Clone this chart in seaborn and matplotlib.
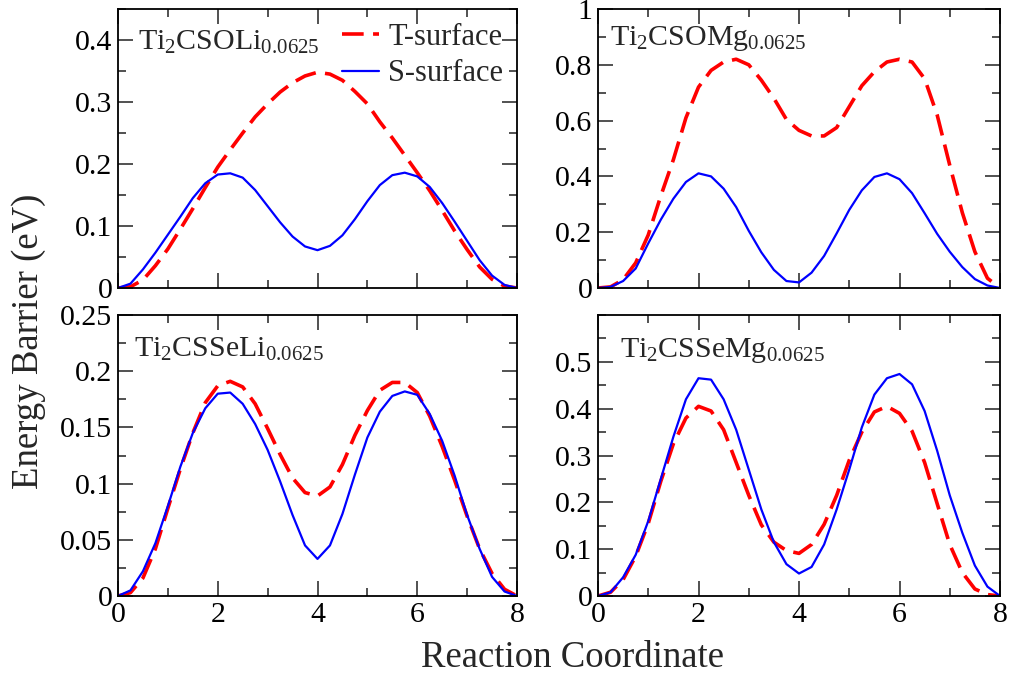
import numpy as np
import pandas as pd
import matplotlib
matplotlib.use("Agg")
import matplotlib.pyplot as plt
import seaborn as sns

# ---------------- data ----------------
x = [i * 0.25 for i in range(33)]

tl_t = [0, 0.002, 0.013, 0.036, 0.063, 0.095, 0.128, 0.162, 0.195, 0.223, 0.250, 0.276, 0.297,
        0.316, 0.331, 0.342, 0.348, 0.345, 0.335, 0.317, 0.297, 0.268, 0.242, 0.214, 0.186,
        0.157, 0.125, 0.092, 0.062, 0.034, 0.014, 0.003, 0]
tl_s = [0, 0.007, 0.030, 0.057, 0.086, 0.115, 0.145, 0.169, 0.183, 0.185, 0.178, 0.158, 0.132,
        0.106, 0.083, 0.067, 0.061, 0.068, 0.085, 0.111, 0.140, 0.166, 0.182, 0.186, 0.180,
        0.163, 0.137, 0.107, 0.076, 0.045, 0.020, 0.005, 0]

tr_t = [0, 0.004, 0.030, 0.090, 0.190, 0.330, 0.460, 0.610, 0.720, 0.780, 0.810, 0.820, 0.800,
        0.745, 0.680, 0.604, 0.565, 0.545, 0.545, 0.575, 0.650, 0.725, 0.775, 0.810, 0.820,
        0.810, 0.750, 0.620, 0.440, 0.270, 0.130, 0.035, 0]
tr_s = [0, 0.004, 0.025, 0.070, 0.160, 0.245, 0.320, 0.380, 0.411, 0.400, 0.356, 0.290, 0.205,
        0.128, 0.065, 0.025, 0.020, 0.055, 0.115, 0.196, 0.280, 0.350, 0.398, 0.411, 0.390,
        0.340, 0.268, 0.194, 0.130, 0.075, 0.032, 0.009, 0]

bl_t = [0, 0.003, 0.016, 0.042, 0.078, 0.113, 0.145, 0.172, 0.187, 0.191, 0.186, 0.171, 0.149,
        0.126, 0.105, 0.092, 0.089, 0.097, 0.117, 0.143, 0.165, 0.183, 0.190, 0.190, 0.181,
        0.160, 0.133, 0.103, 0.071, 0.042, 0.020, 0.006, 0]
bl_s = [0, 0.005, 0.022, 0.047, 0.080, 0.115, 0.145, 0.167, 0.180, 0.181, 0.171, 0.153, 0.130,
        0.102, 0.072, 0.045, 0.033, 0.045, 0.073, 0.108, 0.141, 0.164, 0.178, 0.182, 0.179,
        0.162, 0.138, 0.107, 0.072, 0.042, 0.017, 0.004, 0]

br_t = [0, 0.008, 0.035, 0.085, 0.155, 0.245, 0.325, 0.380, 0.405, 0.395, 0.355, 0.285, 0.215,
        0.152, 0.115, 0.097, 0.091, 0.110, 0.153, 0.215, 0.290, 0.350, 0.393, 0.405, 0.390,
        0.352, 0.285, 0.197, 0.110, 0.050, 0.015, 0.003, 0]
br_s = [0, 0.008, 0.040, 0.088, 0.160, 0.250, 0.340, 0.420, 0.465, 0.462, 0.420, 0.355, 0.270,
        0.185, 0.115, 0.068, 0.048, 0.062, 0.110, 0.185, 0.270, 0.360, 0.430, 0.465, 0.474,
        0.452, 0.395, 0.310, 0.215, 0.135, 0.065, 0.020, 0]

titles = ["Ti$_2$CSOLi$_{0.0625}$", "Ti$_2$CSOMg$_{0.0625}$",
          "Ti$_2$CSSeLi$_{0.0625}$", "Ti$_2$CSSeMg$_{0.0625}$"]
series_names = ["T-surface", "S-surface"]
xticks = [0, 2, 4, 6, 8]

# ---------------- style ----------------
sns.set_style("ticks")
plt.rcParams["font.family"] = ["Liberation Serif", "DejaVu Serif"]
plt.rcParams["mathtext.fontset"] = "custom"
plt.rcParams["mathtext.rm"] = "Liberation Serif"
plt.rcParams["mathtext.it"] = "Liberation Serif:italic"
plt.rcParams["mathtext.default"] = "rm"

fig = plt.figure(figsize=(10.09, 6.78), dpi=100)
L1, R1 = 118 / 1009, 517 / 1009
L2, R2 = 598 / 1009, 1000 / 1009
T1, B1 = 1 - 9 / 678, 1 - 288 / 678
T2, B2 = 1 - 315 / 678, 1 - 596 / 678
boxes = [(L1, B1, R1 - L1, T1 - B1), (L2, B1, R2 - L2, T1 - B1),
         (L1, B2, R1 - L1, T2 - B2), (L2, B2, R2 - L2, T2 - B2)]

panels = [(tl_t, tl_s), (tr_t, tr_s), (bl_t, bl_s), (br_t, br_s)]
ylims = [0.45, 1.0, 0.25, 0.6]
yticks = [[0, 0.1, 0.2, 0.3, 0.4],
          [0, 0.2, 0.4, 0.6, 0.8, 1.0],
          [0, 0.05, 0.1, 0.15, 0.2, 0.25],
          [0, 0.1, 0.2, 0.3, 0.4, 0.5]]
ytick_labels = [["0", "0.1", "0.2", "0.3", "0.4"],
                ["0", "0.2", "0.4", "0.6", "0.8", "1"],
                ["0", "0.05", "0.1", "0.15", "0.2", "0.25"],
                ["0", "0.1", "0.2", "0.3", "0.4", "0.5"]]
yminor = [0.05, 0.1, 0.025, 0.05]
text_pos = [(0.05, 0.93), (0.03, 0.945), (0.04, 0.925), (0.055, 0.925)]

for i, (box, (t_vals, s_vals)) in enumerate(zip(boxes, panels)):
    ax = fig.add_axes(box)
    df = pd.DataFrame({"x": x, "T": t_vals, "S": s_vals})
    sns.lineplot(data=df, x="x", y="T", ax=ax, color="#ff0000", lw=2.6,
                 label=series_names[0] if i == 0 else None)
    ax.lines[-1].set_dashes((6, 2.6))
    sns.lineplot(data=df, x="x", y="S", ax=ax, color="#0000ff", lw=1.6,
                 label=series_names[1] if i == 0 else None)
    ax.set_xlim(0, 8)
    ax.set_ylim(0, ylims[i])
    ax.set_xticks(xticks)
    ax.set_xticks(np.arange(0, 8.01, 1), minor=True)
    ax.set_yticks(yticks[i])
    ax.set_yticklabels(ytick_labels[i])
    ax.set_yticks(np.arange(0, ylims[i] + 1e-9, yminor[i]), minor=True)
    if i < 2:
        ax.set_xticklabels([])
    else:
        ax.set_xticklabels([str(v) for v in xticks])
    ax.set_xlabel("")
    ax.set_ylabel("")
    ax.tick_params(which="both", direction="in", top=True, right=True,
                   labelsize=21.5, width=1.1, colors="#222222", labelcolor="black")
    ax.tick_params(which="major", length=11, pad=4)
    ax.tick_params(which="minor", length=6)
    for sp in ax.spines.values():
        sp.set_linewidth(1.3)
        sp.set_color("black")
    ax.text(text_pos[i][0], text_pos[i][1], titles[i], transform=ax.transAxes,
            fontsize=21.5, va="top", ha="left")
    if i == 0:
        ax.legend(loc="upper right", frameon=False, fontsize=22, handlelength=1.2,
                  handletextpad=0.3, borderaxespad=0.3, labelspacing=0.25,
                  borderpad=0.15)
    elif ax.get_legend() is not None:
        ax.get_legend().remove()

fig.text(0.028, 0.497, "Energy Barrier (eV)", rotation=90, ha="center", va="center",
         fontsize=26.5)
fig.text(0.567, 0.03, "Reaction Coordinate", ha="center", va="center", fontsize=26.5)

fig.savefig("out.png", dpi=100)
